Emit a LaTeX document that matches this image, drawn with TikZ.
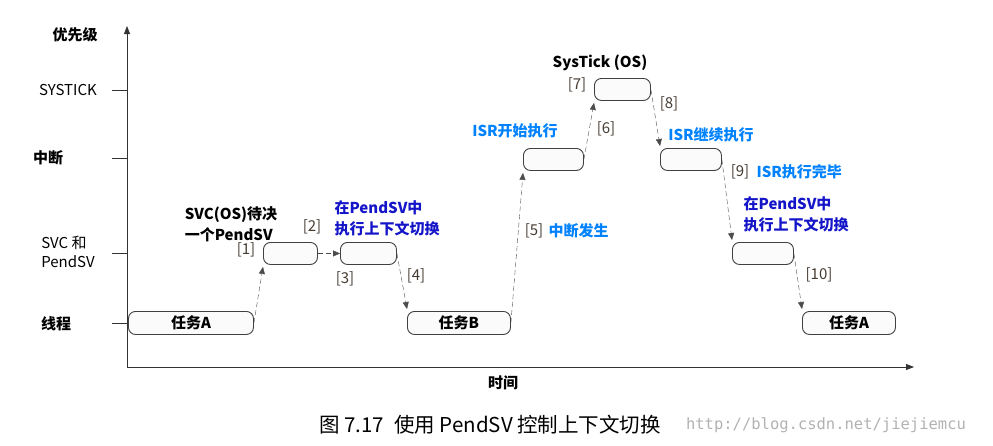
\documentclass[tikz,border=0pt]{standalone}
\usepackage{fontspec}
\setmainfont{Noto Sans CJK SC}
\newfontfamily\monof{DejaVu Sans Mono}
\usetikzlibrary{arrows.meta}
\definecolor{dblue}{RGB}{20,20,200}
\definecolor{lblue}{RGB}{0,130,255}
\definecolor{brk}{RGB}{70,60,50}
\begin{document}
\begin{tikzpicture}[x=1pt,y=-1pt,
  box/.style={draw=black!75,line width=0.9pt,rounded corners=7pt,fill=gray!3,inner sep=0pt,font=\bfseries\fontsize{15}{15}\selectfont},
  con/.style={dash pattern=on 5pt off 3pt,black!70,-{Triangle[length=7pt,width=6pt]}},
  lab/.style={font=\fontsize{15}{17}\selectfont,color=brk},
  bl/.style={font=\bfseries\fontsize{15}{21}\selectfont,align=left},
  ax/.style={font=\fontsize{15}{19}\selectfont}]
\useasboundingbox (0,0) rectangle (993,445);
\draw[black!80,line width=0.8pt,-{Triangle[length=8pt,width=6pt]}] (127,367) -- (127,26);
\draw[black!80,line width=0.8pt,-{Triangle[length=8pt,width=6pt]}] (127,367) -- (914,367);
\foreach \yy in {90,158,253,323} \draw[black!80] (112,\yy) -- (127,\yy);
\node[bl] (pri) at (75,35) {优先级};
\node[ax] (sys) at (68,90) {SYSTICK};
\node[bl] (irq) at (48,158) {中断};
\node[ax,align=left] (svc) at (68,252) {SVC 和\\PendSV};
\node[bl] (thr) at (56,324) {线程};
\node[bl] (time) at (503,383) {时间};
% boxes
\node[box,minimum width=125pt,minimum height=23pt,anchor=north west] (ta) at (128,311) {任务A};
\node[box,minimum width=54pt,minimum height=22pt,anchor=north west] (b1) at (263,242) {};
\node[box,minimum width=56pt,minimum height=22pt,anchor=north west] (b2) at (340,242) {};
\node[box,minimum width=103pt,minimum height=23pt,anchor=north west] (tb) at (407,311) {任务B};
\node[box,minimum width=60pt,minimum height=22pt,anchor=north west] (isr) at (523,148) {};
\node[box,minimum width=56pt,minimum height=22pt,anchor=north west] (st) at (594,78) {};
\node[box,minimum width=61pt,minimum height=22pt,anchor=north west] (isr2) at (660,148) {};
\node[box,minimum width=61pt,minimum height=22pt,anchor=north west] (ps2) at (732,242) {};
\node[box,minimum width=93pt,minimum height=23pt,anchor=north west] (ta2) at (802,311) {任务A};
% connectors
\draw[con] (ta.east) -- ([yshift=-2pt]b1.south west);
\draw[con] (b1.east) -- (b2.west);
\draw[con] (b2.east) -- ([yshift=2pt]tb.north west);
\draw[con] (tb.east) -- ([yshift=-2pt]isr.south west);
\draw[con] (isr.east) -- ([yshift=-2pt]st.south west);
\draw[con] (st.east) -- ([yshift=2pt]isr2.north west);
\draw[con] (isr2.east) -- ([yshift=2pt]ps2.north west);
\draw[con] (ps2.east) -- ([yshift=2pt]ta2.north west);
% bracket labels
\node[lab] (l1) at (246,250) {[1]};
\node[lab] (l2) at (312,227) {[2]};
\node[lab] (l3) at (345,279) {[3]};
\node[lab] (l4) at (416,276) {[4]};
\node[lab] (l5) at (534,231) {[5]};
\node[lab] (l6) at (606,129) {[6]};
\node[lab] (l7) at (577,85) {[7]};
\node[lab] (l8) at (669,104) {[8]};
\node[lab] (l9) at (740,172) {[9]};
\node[lab] (l10) at (819,275) {[10]};
% texts
\node[bl] (svct) at (231,224) {SVC(OS)待决\\一个PendSV};
\node[bl,text=dblue,anchor=west] (pt1) at (331,218) {在PendSV中\\执行上下文切换};
\node[bl,text=lblue,anchor=west] (t5) at (545,231) {中断发生};
\node[bl,text=lblue] (t6) at (515,131) {ISR开始执行};
\node[bl] (t7) at (600,63) {SysTick (OS)};
\node[bl,text=lblue] (t8) at (711,135) {ISR继续执行};
\node[bl,text=lblue,anchor=west] (t9) at (753,172) {ISR执行完毕};
\node[bl,text=dblue,anchor=west] (pt2) at (740,214) {在PendSV中\\执行上下文切换};
\node[font=\fontsize{20.5}{22}\selectfont] (cap) at (490,425) {图 7.17\enspace 使用 PendSV 控制上下文切换};
\node[font=\monof\fontsize{15.5}{17}\selectfont,text=black!30] (wm) at (826,425) {http://blog.csdn.net/jiejiemcu};
\end{tikzpicture}
\end{document}
